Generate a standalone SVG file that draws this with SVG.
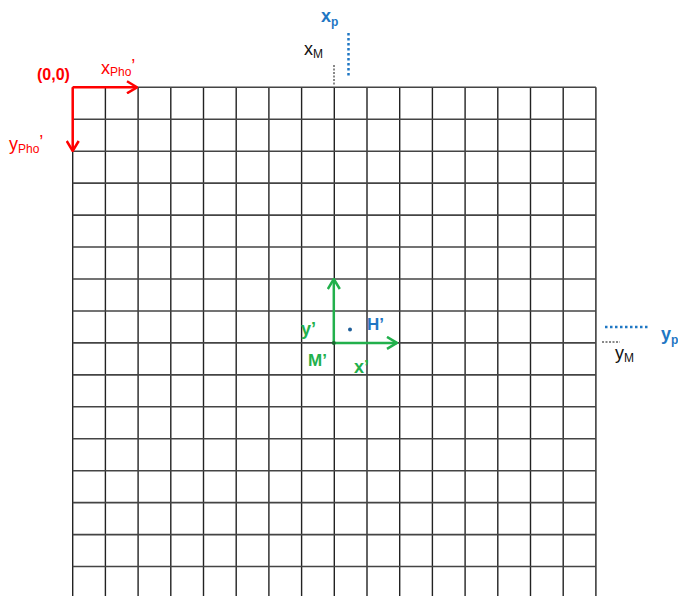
<svg xmlns="http://www.w3.org/2000/svg" width="678" height="596" viewBox="0 0 678 596">
<style>
text{font-family:"Liberation Sans",Arial,sans-serif}
.v{stroke:#222;stroke-width:1.4}
.h{stroke:#444;stroke-width:1.6}
.red{fill:#ff0000}
.blue{fill:#1f77c4}
.green{fill:#22b04c}
.blk{fill:#111}
</style>
<defs>
<marker id="ar" viewBox="0 0 12 14" refX="11" refY="7" markerWidth="12" markerHeight="14" orient="auto" markerUnits="userSpaceOnUse">
<path d="M1,1 L11,7 L1,13" fill="none" stroke="#ff0000" stroke-width="2.5"/>
</marker>
<marker id="ag" viewBox="0 0 12 14" refX="11" refY="7" markerWidth="12" markerHeight="14" orient="auto" markerUnits="userSpaceOnUse">
<path d="M1,1 L11,7 L1,13" fill="none" stroke="#22b04c" stroke-width="2.5"/>
</marker>
</defs>
<g id="grid">
<line class="v" x1="72.7" y1="87.3" x2="72.7" y2="596"/>
<line class="v" x1="105.4" y1="87.3" x2="105.4" y2="596"/>
<line class="v" x1="138.1" y1="87.3" x2="138.1" y2="596"/>
<line class="v" x1="170.8" y1="87.3" x2="170.8" y2="596"/>
<line class="v" x1="203.5" y1="87.3" x2="203.5" y2="596"/>
<line class="v" x1="236.2" y1="87.3" x2="236.2" y2="596"/>
<line class="v" x1="268.9" y1="87.3" x2="268.9" y2="596"/>
<line class="v" x1="301.6" y1="87.3" x2="301.6" y2="596"/>
<line class="v" x1="334.3" y1="87.3" x2="334.3" y2="596"/>
<line class="v" x1="367" y1="87.3" x2="367" y2="596"/>
<line class="v" x1="399.7" y1="87.3" x2="399.7" y2="596"/>
<line class="v" x1="432.4" y1="87.3" x2="432.4" y2="596"/>
<line class="v" x1="465.1" y1="87.3" x2="465.1" y2="596"/>
<line class="v" x1="497.8" y1="87.3" x2="497.8" y2="596"/>
<line class="v" x1="530.5" y1="87.3" x2="530.5" y2="596"/>
<line class="v" x1="563.2" y1="87.3" x2="563.2" y2="596"/>
<line class="v" x1="595.9" y1="87.3" x2="595.9" y2="596"/>
<line class="h" x1="72.7" y1="87.3" x2="595.9" y2="87.3"/>
<line class="h" x1="72.7" y1="119.25" x2="595.9" y2="119.25"/>
<line class="h" x1="72.7" y1="151.2" x2="595.9" y2="151.2"/>
<line class="h" x1="72.7" y1="183.15" x2="595.9" y2="183.15"/>
<line class="h" x1="72.7" y1="215.1" x2="595.9" y2="215.1"/>
<line class="h" x1="72.7" y1="247.05" x2="595.9" y2="247.05"/>
<line class="h" x1="72.7" y1="279" x2="595.9" y2="279"/>
<line class="h" x1="72.7" y1="310.95" x2="595.9" y2="310.95"/>
<line class="h" x1="72.7" y1="342.9" x2="595.9" y2="342.9"/>
<line class="h" x1="72.7" y1="374.85" x2="595.9" y2="374.85"/>
<line class="h" x1="72.7" y1="406.8" x2="595.9" y2="406.8"/>
<line class="h" x1="72.7" y1="438.75" x2="595.9" y2="438.75"/>
<line class="h" x1="72.7" y1="470.7" x2="595.9" y2="470.7"/>
<line class="h" x1="72.7" y1="502.65" x2="595.9" y2="502.65"/>
<line class="h" x1="72.7" y1="534.6" x2="595.9" y2="534.6"/>
<line class="h" x1="72.7" y1="566.55" x2="595.9" y2="566.55"/>
</g>
<g id="connectors">
<line x1="72.7" y1="87.3" x2="137" y2="87.3" stroke="#ff0000" stroke-width="2.5" marker-end="url(#ar)"/>
<line x1="72.7" y1="87.3" x2="72.7" y2="151" stroke="#ff0000" stroke-width="2.5" marker-end="url(#ar)"/>
<line x1="333.8" y1="342.9" x2="333.8" y2="279" stroke="#22b04c" stroke-width="2.5" marker-end="url(#ag)"/>
<line x1="333.8" y1="342.9" x2="397" y2="342.9" stroke="#22b04c" stroke-width="2.5" marker-end="url(#ag)"/>
<line x1="348.5" y1="33" x2="348.5" y2="77" stroke="#1f77c4" stroke-width="2.5" stroke-dasharray="2.5 2.5"/>
<line x1="334" y1="65" x2="334" y2="85" stroke="#111" stroke-width="1" stroke-dasharray="2 1.5"/>
<line x1="605" y1="327" x2="648" y2="327" stroke="#1f77c4" stroke-width="2.5" stroke-dasharray="2.5 2.5"/>
<line x1="602" y1="342" x2="620" y2="342" stroke="#111" stroke-width="1" stroke-dasharray="2 1.5"/>
</g>
<g id="origin"><text x="37" y="80" class="red" font-size="16" font-weight="bold">(0,0)</text></g>
<g id="xpho"><text x="101" y="74" class="red" font-size="18">x<tspan font-size="12" dy="2">Pho</tspan><tspan dy="-4">’</tspan></text></g>
<g id="ypho"><text x="9" y="150" class="red" font-size="18">y<tspan font-size="12" dy="3">Pho</tspan><tspan dy="-5">’</tspan></text></g>
<g id="xp"><text x="321" y="22" class="blue" font-size="18" font-weight="bold">x<tspan font-size="12" dy="4">p</tspan></text></g>
<g id="xm"><text x="304" y="55" class="blk" font-size="18">x<tspan font-size="12" dy="3">M</tspan></text></g>
<g id="yp"><text x="661" y="340" class="blue" font-size="18" font-weight="bold">y<tspan font-size="12" dy="4">p</tspan></text></g>
<g id="ym"><text x="615" y="359" class="blk" font-size="18">y<tspan font-size="12" dy="3">M</tspan></text></g>
<g id="H"><circle cx="350" cy="329.5" r="2" fill="#1f5f9a"/><text x="367" y="330" class="blue" font-size="17" font-weight="bold">H’</text></g>
<g id="yprime"><text x="301" y="335" class="green" font-size="18" font-weight="bold">y’</text></g>
<g id="M"><circle cx="333.8" cy="342.9" r="2" fill="#1a6b30"/><text x="308" y="366" class="green" font-size="17" font-weight="bold">M’</text></g>
<g id="xprime"><text x="354" y="373" class="green" font-size="18" font-weight="bold">x’</text></g>
</svg>
